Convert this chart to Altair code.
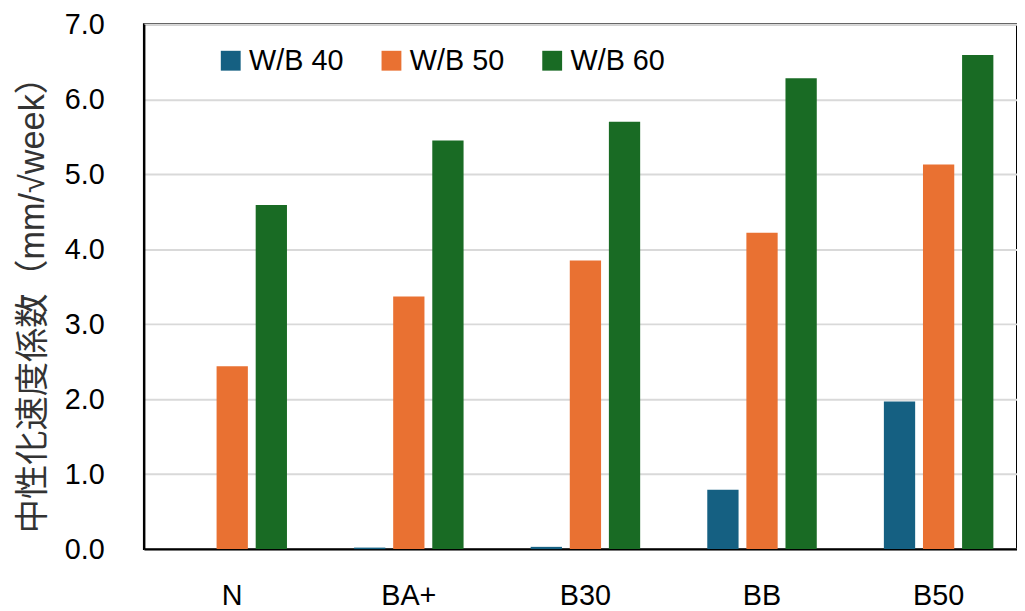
import altair as alt
import pandas as pd

categories = ["N", "BA+", "B30", "BB", "B50"]
series = ["W/B 40", "W/B 50", "W/B 60"]
wb40 = [0.0, 0.02, 0.03, 0.79, 1.97]
wb50 = [2.44, 3.37, 3.85, 4.22, 5.13]
wb60 = [4.59, 5.45, 5.70, 6.28, 6.59]
colors = ["#156082", "#E97132", "#196B24"]
y_ticks = [0, 1, 2, 3, 4, 5, 6, 7]

rows = []
for s, vals in zip(series, [wb40, wb50, wb60]):
    for c, v in zip(categories, vals):
        rows.append({"cat": c, "series": s, "value": v})
df = pd.DataFrame(rows)

font = "Liberation Sans"

chart = alt.Chart(df).mark_bar().encode(
    x=alt.X("cat:N", sort=categories,
            scale=alt.Scale(paddingInner=0.38, paddingOuter=0.19, range=[0, 890]),
            axis=alt.Axis(title=None, labelAngle=0, ticks=False, labelPadding=33,
                          labelFontSize=29, labelFont=font, labelColor="#000000",
                          domainColor="#000000", domainWidth=2)),
    xOffset=alt.XOffset("series:N", sort=series,
                        scale=alt.Scale(paddingInner=0.2, paddingOuter=0)),
    y=alt.Y("value:Q", scale=alt.Scale(domain=[0, 7], nice=False),
            axis=alt.Axis(values=y_ticks, format=".1f", ticks=False, labelPadding=40,
                          labelFontSize=29, labelFont=font, labelColor="#000000",
                          domainColor="#000000", domainWidth=2,
                          gridColor="#d9d9d9", gridWidth=2,
                          title="中性化速度係数（mm/√week）",
                          titleFont="'Liberation Sans', 'Noto Sans CJK JP'",
                          titleFontSize=34.5,
                          titleFontWeight="normal", titleColor="#333333",
                          titleAngle=-90, titleAlign="center", titleBaseline="middle",
                          titleX=-111, titleY=274)),
    color=alt.Color("series:N", sort=series,
                    scale=alt.Scale(domain=series, range=colors),
                    legend=alt.Legend(title=None, orient="none", legendX=73, legendY=22,
                                      direction="horizontal", symbolType="square",
                                      symbolSize=400, symbolStrokeWidth=0,
                                      labelFontSize=29, labelFont=font,
                                      labelColor="#000000", labelOffset=4,
                                      columnPadding=33)),
).properties(
    width=880, height=529,
    autosize=alt.AutoSizeParams(type="none"),
    padding={"left": 137, "top": 14, "right": 0, "bottom": 60},
).configure_view(
    stroke="#000000", strokeWidth=2
).configure_axis(
    gridDash=[]
)

chart.save("out.html", embed_options={"renderer": "svg", "actions": False})
